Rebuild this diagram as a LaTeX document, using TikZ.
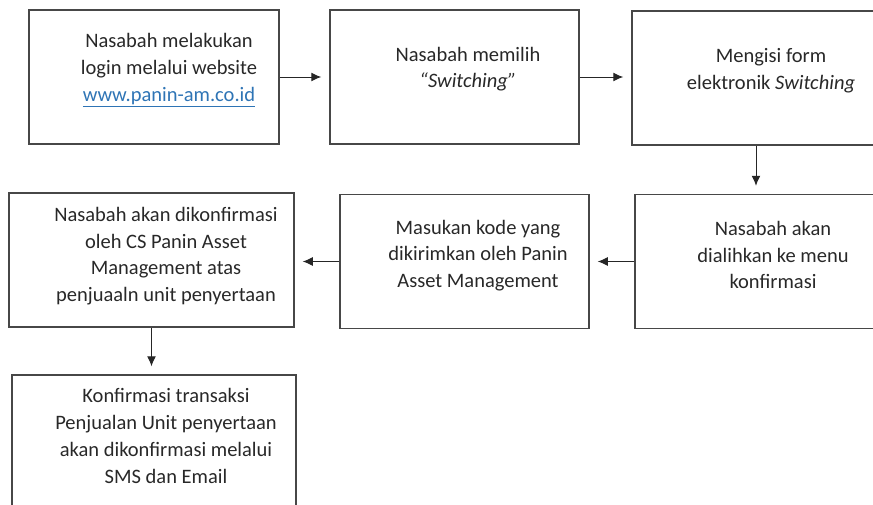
\documentclass[tikz,border=0pt]{standalone}
\usepackage{fontspec}
\setmainfont{Carlito}
\usepackage{tikz}
\usetikzlibrary{positioning, arrows.meta}

\definecolor{linkblue}{RGB}{46,116,181}
\definecolor{textgray}{RGB}{40,40,40}
\newcommand{\weblink}[1]{\textcolor{linkblue}{\underline{#1}}}

\begin{document}
\begin{tikzpicture}[x=1pt, y=-1pt,
    every node/.style={font=\fontsize{20.5}{26.7}\selectfont, text=textgray},
    box/.style={rectangle, draw=black!72, line width=1.5pt, inner sep=0pt, minimum height=134pt},
    txt/.style={align=center, inner sep=0pt},
    conn/.style={-{Latex[length=10pt,width=9pt]}, line width=1pt, draw=black!85, shorten >=8pt}]
    \clip (0,0) rectangle (873,504);

    % boxes
    \node[box, minimum width=250pt] (login) at (154,77) {};
    \node[box, minimum width=249pt] (pilih) at (454.5,77) {};
    \node[box, minimum width=248pt] (isiform) at (756,78) {};
    \node[box, minimum width=245pt] (alih) at (757.5,261.5) {};
    \node[box, minimum width=249pt] (kode) at (464.5,261.5) {};
    \node[box, minimum width=285pt] (konfcs) at (151.5,260) {};
    \node[box, minimum width=284pt] (konfsms) at (154,442) {};

    % texts
    \node[txt] (tlogin) at (169,70) {Nasabah melakukan\\login melalui website\\\weblink{www.panin-am.co.id}};
    \node[txt] (tpilih) at (468,69) {Nasabah memilih\\\textit{“Switching”}};
    \node[txt] (tisiform) at (771,71) {Mengisi form\\elektronik \textit{Switching}};
    \node[txt] (talih) at (773,255) {Nasabah akan\\dialihkan ke menu\\konfirmasi};
    \node[txt] (tkode) at (478,255.5) {Masukan kode yang\\dikirimkan oleh Panin\\Asset Management};
    \node[txt] (tkonfcs) at (166,256) {Nasabah akan dikonfirmasi\\oleh CS Panin Asset\\Management atas\\penjuaaln unit penyertaan};
    \node[txt] (tkonfsms) at (166,436) {Konfirmasi transaksi\\Penjualan Unit penyertaan\\akan dikonfirmasi melalui\\SMS dan Email};

    % connectors
    \draw[conn] (login) -- (pilih);
    \draw[conn] (pilih) -- (pilih -| isiform.west);
    \draw[conn] (isiform.south) -- (isiform.south |- alih.north);
    \draw[conn] (alih) -- (kode);
    \draw[conn] (kode.west) -- (kode.west -| konfcs.east);
    \draw[conn] (konfcs.south) -- (konfcs.south |- konfsms.north);
\end{tikzpicture}
\end{document}
